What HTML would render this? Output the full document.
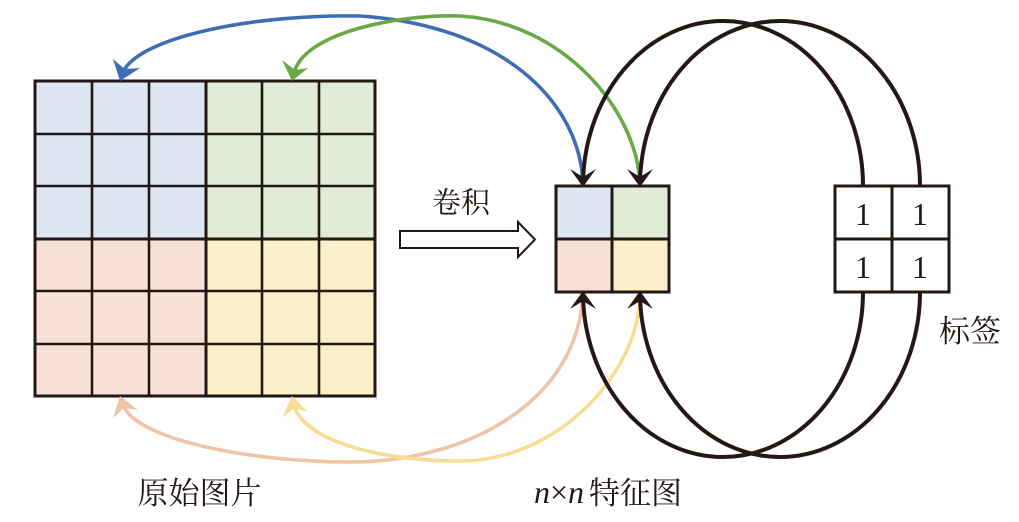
<!DOCTYPE html>
<html>
<head>
<meta charset="utf-8">
<style>
  html,body{margin:0;padding:0;background:#fff;}
  svg{display:block;}
</style>
</head>
<body>
<svg width="1019" height="522" viewBox="0 0 1019 522" xmlns="http://www.w3.org/2000/svg">
  <!-- Left image grid fills -->
  <rect x="35" y="81" width="171" height="158" fill="#dce7f3"/>
  <rect x="206" y="81" width="169" height="158" fill="#e0ecd6"/>
  <rect x="35" y="239" width="171" height="157" fill="#f8e2d7"/>
  <rect x="206" y="239" width="169" height="157" fill="#fbefca"/>
  <g stroke="#231815" stroke-width="2.6" fill="none">
    <line x1="92" y1="81" x2="92" y2="396"/>
    <line x1="149" y1="81" x2="149" y2="396"/>
    <line x1="262" y1="81" x2="262" y2="396"/>
    <line x1="319" y1="81" x2="319" y2="396"/>
    <line x1="35" y1="134" x2="375" y2="134"/>
    <line x1="35" y1="186" x2="375" y2="186"/>
    <line x1="35" y1="291" x2="375" y2="291"/>
    <line x1="35" y1="344" x2="375" y2="344"/>
  </g>
  <g stroke="#231815" stroke-width="3" fill="none">
    <line x1="206" y1="81" x2="206" y2="396"/>
    <line x1="35" y1="239" x2="375" y2="239"/>
    <rect x="35" y="81" width="340" height="315"/>
  </g>

  <!-- Feature map -->
  <rect x="556" y="186" width="56" height="53" fill="#dce7f3"/>
  <rect x="612" y="186" width="57" height="53" fill="#e0ecd6"/>
  <rect x="556" y="239" width="56" height="53" fill="#f8e2d7"/>
  <rect x="612" y="239" width="57" height="53" fill="#fbefca"/>
  <g stroke="#231815" stroke-width="3" fill="none">
    <rect x="556" y="186" width="113" height="106"/>
    <line x1="612" y1="186" x2="612" y2="292"/>
    <line x1="556" y1="239" x2="669" y2="239"/>
  </g>

  <!-- Label box -->
  <g stroke="#231815" stroke-width="3" fill="#fff">
    <rect x="835" y="186" width="114" height="106"/>
    <line x1="892" y1="186" x2="892" y2="292"/>
    <line x1="835" y1="239" x2="949" y2="239"/>
  </g>
  <g font-family="'Liberation Serif', serif" font-size="32" fill="#231815" text-anchor="middle">
    <text x="863" y="225">1</text>
    <text x="920" y="225">1</text>
    <text x="863" y="278">1</text>
    <text x="920" y="278">1</text>
  </g>

  <!-- Colored curves -->
  <g fill="none" stroke-width="3.6" stroke-linecap="butt">
    <path d="M583,184 C580,100 500,25 360,16 C260,14 145,35 124,70" stroke="#3f6db4"/>
    <path d="M640,184 C637,110 563,22 460,16 C400,14 308,32 295,70" stroke="#6aa847"/>
    <path d="M583,294 C578,400 470,462 350,462 C250,462 140,440 124,407" stroke="#f1c3a6"/>
    <path d="M640,294 C640,370 560,461 460,461 C390,461 310,445 294,407" stroke="#f6dd93"/>
  </g>
  <polygon points="120,81 113,59 124.5,69 140,68" fill="#3f6db4"/>
  <polygon points="292,81 282,60 295,70 308,68" fill="#6aa847"/>
  <polygon points="120,396 113,418 124,408 138,410" fill="#f1c3a6"/>
  <polygon points="292,396 282,418 294,408 308,412" fill="#f6dd93"/>

  <!-- Black arcs -->
  <g fill="none" stroke="#231815" stroke-width="4">
    <path d="M583,180 L583,186 A140,165 0 0 1 863,186"/>
    <path d="M640,180 L640,186 A140,165 0 0 1 920,186"/>
    <path d="M583,300 L583,292 A140,165 0 0 0 863,292"/>
    <path d="M640,300 L640,292 A140,165 0 0 0 920,292"/>
  </g>
  <g fill="#231815">
    <polygon points="583,187 570,169 583,177 596,169"/>
    <polygon points="640,187 627,169 640,177 653,169"/>
    <polygon points="583,291 570,309 583,301 596,309"/>
    <polygon points="640,291 627,309 640,301 653,309"/>
  </g>
  <!-- redraw box borders over arrow tips -->
  <g stroke="#231815" stroke-width="3" fill="none">
    <line x1="556" y1="186" x2="669" y2="186"/>
    <line x1="556" y1="292" x2="669" y2="292"/>
  </g>

  <!-- Hollow arrow -->
  <path d="M400,231 L518,231 L518,222 L535,239.5 L518,257 L518,248 L400,248 Z" fill="#fff" stroke="#231815" stroke-width="2"/>

  <!-- Labels -->
  <g font-family="'Liberation Serif', 'Noto Serif CJK SC', serif" fill="#231815">
    <text x="461" y="212.5" font-size="29" text-anchor="middle">卷积</text>
    <text x="199.5" y="504" font-size="31" text-anchor="middle">原始图片</text>
    <text x="534" y="503" font-size="32" font-style="italic">n<tspan font-style="normal">×</tspan>n</text>
    <text x="589" y="504" font-size="31">特征图</text>
    <text x="970" y="342" font-size="31" text-anchor="middle">标签</text>
  </g>
</svg>
</body>
</html>
